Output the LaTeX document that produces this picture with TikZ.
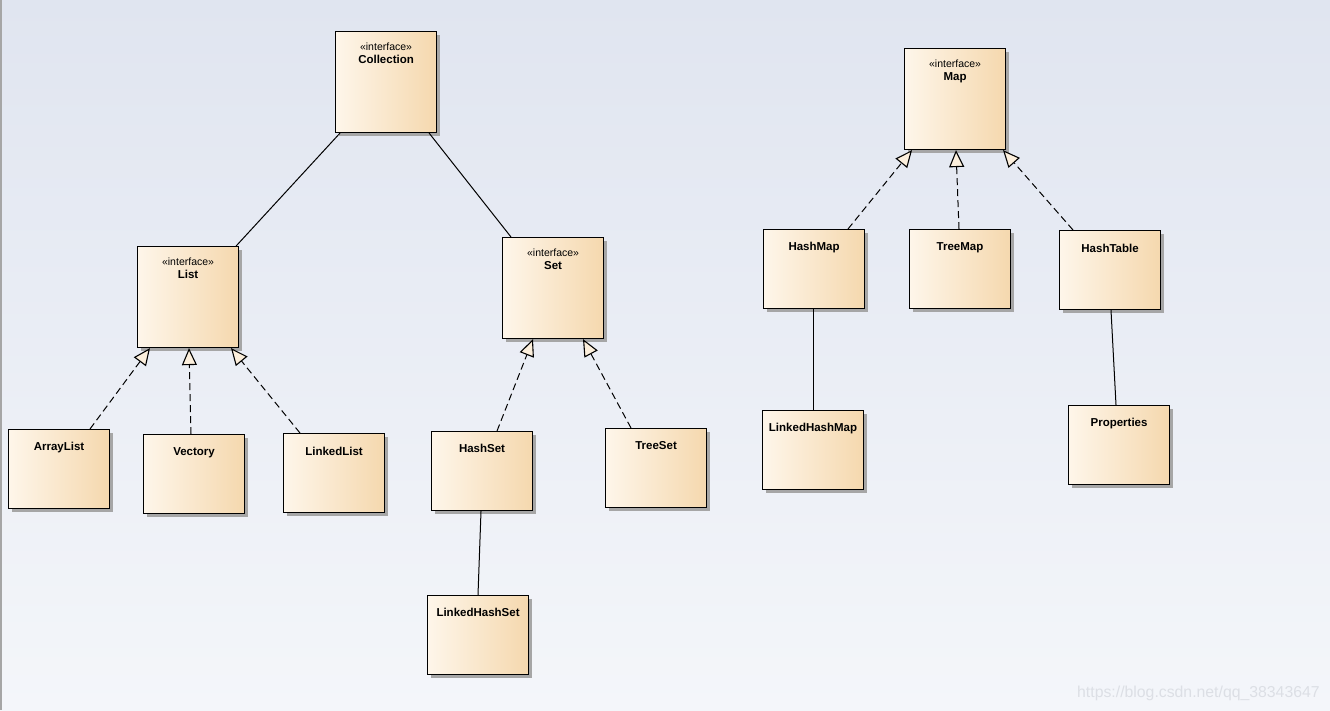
\documentclass[tikz,border=0pt]{standalone}
\usepackage{fontspec}
\setmainfont{Liberation Sans}
\usetikzlibrary{arrows.meta,shadows,calc}
\definecolor{bgtop}{HTML}{E0E5F0}
\definecolor{bgbot}{HTML}{F4F6FA}
\definecolor{boxL}{HTML}{FEF6EA}
\definecolor{boxR}{HTML}{F5D8AE}
\definecolor{shadowc}{HTML}{A6A6A6}
\definecolor{tipfill}{HTML}{FCEFDC}
\definecolor{wmark}{HTML}{DCDFE5}
\tikzset{
  umlbox/.style={draw=black, line width=1.1pt, left color=boxL, right color=boxR,
    minimum width=101pt, minimum height=#1, inner sep=0pt, anchor=north west,
    drop shadow={shadow xshift=3pt, shadow yshift=-3pt, fill=shadowc, opacity=1}},
  ibox/.style={umlbox=101pt},
  cbox/.style={umlbox=79pt},
  stereo/.style={anchor=base, inner sep=0pt, font=\fontsize{10.5}{12}\selectfont},
  cname/.style={anchor=base, inner sep=0pt, font=\fontsize{11.5}{13}\selectfont\bfseries},
  assoc/.style={draw=black, line width=1pt},
  realize/.style={draw=black, line width=1pt, dash pattern=on 7pt off 4pt,
    -{Triangle[length=17pt,width=15pt,fill=tipfill,line width=1.1pt]}},
}
\begin{document}
\begin{tikzpicture}[x=1pt,y=-1pt]
\useasboundingbox (0,0) rectangle (1330,710);
\shade[top color=bgtop, bottom color=bgbot] (0,0) rectangle (1330,710);
\fill[gray!70] (0,0) rectangle (1.5,710);

% boxes
\node[ibox] (col) at (335,31) {};
\node[ibox] (list) at (137,246) {};
\node[ibox] (set) at (502,237) {};
\node[cbox] (arr) at (8,429) {};
\node[cbox] (vec) at (143,434) {};
\node[cbox] (ll) at (283,433) {};
\node[cbox] (hs) at (431,431) {};
\node[cbox] (ts) at (605,428) {};
\node[cbox] (lhs) at (427,595) {};
\node[ibox] (map) at (904,48) {};
\node[cbox] (hm) at (763,229) {};
\node[cbox] (tm) at (909,229) {};
\node[cbox] (ht) at (1059,230) {};
\node[cbox] (lhm) at (762,410) {};
\node[cbox] (prop) at (1068,405) {};

% texts
\node[stereo] (colS) at ($(col.north)+(0,19)$) {«interface»};
\node[cname] (colN) at ($(col.north)+(0,32)$) {Collection};
\node[stereo] (listS) at ($(list.north)+(0,19)$) {«interface»};
\node[cname] (listN) at ($(list.north)+(0,32)$) {List};
\node[stereo] (setS) at ($(set.north)+(0,19)$) {«interface»};
\node[cname] (setN) at ($(set.north)+(0,32)$) {Set};
\node[stereo] (mapS) at ($(map.north)+(0,19)$) {«interface»};
\node[cname] (mapN) at ($(map.north)+(0,32)$) {Map};
\node[cname] (arrN) at ($(arr.north)+(0,21)$) {ArrayList};
\node[cname] (vecN) at ($(vec.north)+(0,21)$) {Vectory};
\node[cname] (llN) at ($(ll.north)+(0,22)$) {LinkedList};
\node[cname] (hsN) at ($(hs.north)+(0,21)$) {HashSet};
\node[cname] (tsN) at ($(ts.north)+(0,21)$) {TreeSet};
\node[cname] (lhsN) at ($(lhs.north)+(0,21)$) {LinkedHashSet};
\node[cname] (hmN) at ($(hm.north)+(0,21)$) {HashMap};
\node[cname] (tmN) at ($(tm.north)+(0,21)$) {TreeMap};
\node[cname] (htN) at ($(ht.north)+(0,22)$) {HashTable};
\node[cname] (lhmN) at ($(lhm.north)+(0,21)$) {LinkedHashMap};
\node[cname] (propN) at ($(prop.north)+(0,21)$) {Properties};

% connectors
\draw[assoc] ($(col.south west)+(5,0)$) -- ($(list.north east)+(-3,0)$);
\draw[assoc] ($(col.south east)+(-8,0)$) -- ($(set.north west)+(9,0)$);
\draw[realize] ($(arr.north west)+(82,0)$) -- ($(list.south west)+(13,0)$);
\draw[realize] ($(vec.north west)+(48,0)$) -- ($(list.south west)+(52,0)$);
\draw[realize] ($(ll.north west)+(17,0)$) -- ($(list.south west)+(94,0)$);
\draw[realize] ($(hs.north west)+(66,0)$) -- ($(set.south west)+(31,0)$);
\draw[realize] ($(ts.north west)+(26,0)$) -- ($(set.south west)+(81,0)$);
\draw[assoc] ($(hs.south west)+(50,0)$) -- ($(lhs.north west)+(51,0)$);
\draw[realize] ($(hm.north west)+(85,0)$) -- ($(map.south west)+(8,0)$);
\draw[realize] ($(tm.north west)+(50,0)$) -- ($(map.south west)+(52,0)$);
\draw[realize] ($(ht.north west)+(14,0)$) -- ($(map.south west)+(99,0)$);
\draw[assoc] ($(hm.south west)+(50,0)$) -- ($(lhm.north west)+(51,0)$);
\draw[assoc] ($(ht.south west)+(52,0)$) -- ($(prop.north west)+(48,0)$);

% watermark
\node[anchor=base west, inner sep=0pt, text=wmark, font=\fontsize{15.8}{18}\selectfont] (wm) at (1077,697) {https://blog.csdn.net/qq\_38343647};
\end{tikzpicture}
\end{document}
